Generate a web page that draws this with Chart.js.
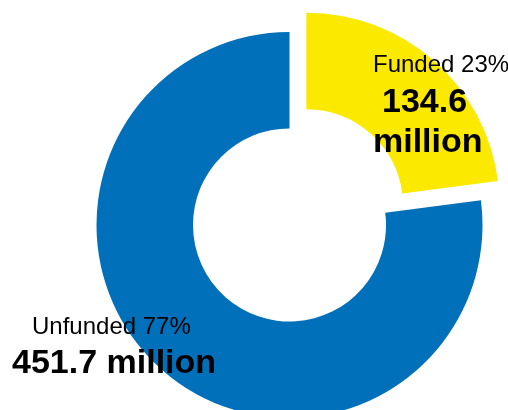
<!DOCTYPE html>
<html>
<head>
<meta charset="utf-8">
<style>
  html, body { margin: 0; padding: 0; background: #fff; }
  #wrap { width: 508px; height: 410px; position: relative; }
</style>
<script src="https://cdn.jsdelivr.net/npm/chart.js@4/dist/chart.umd.min.js"></script>
</head>
<body>
<div id="wrap"><canvas id="donut"></canvas></div>
<script>
// Funding split (values in millions)
const categories = ['Funded', 'Unfunded'];
const amounts = [134.6, 451.7];
const shares = [23, 77];
const sliceColors = ['#FBE900', '#0070BA'];

// Where each label block sits: [x, y of first line, lines]
const labelSpots = [
  { x: 373, y: 72, lines: ['head', 'num', 'unit'], numX: 382 },
  { x: 32, y: 334, lines: ['head', 'numunit'], numX: 12 },
];

const labelPlugin = {
  id: 'sliceLabels',
  afterDatasetsDraw(chart) {
    const ctx = chart.ctx;
    ctx.save();
    ctx.fillStyle = '#000';
    ctx.textAlign = 'left';
    ctx.textBaseline = 'alphabetic';
    categories.forEach((cat, i) => {
      const spot = labelSpots[i];
      ctx.font = '24px "Liberation Sans", Arial, sans-serif';
      ctx.fillText(cat + ' ' + shares[i] + '%', spot.x, spot.y);
      ctx.font = 'bold 34px "Liberation Sans", Arial, sans-serif';
      if (spot.lines.includes('numunit')) {
        ctx.fillText(amounts[i].toFixed(1) + ' million', spot.numX, spot.y + 38.5);
      } else {
        ctx.fillText(amounts[i].toFixed(1), spot.numX, spot.y + 40);
        ctx.fillText('million', spot.x, spot.y + 80);
      }
    });
    ctx.restore();
  }
};

new Chart(document.getElementById('donut'), {
  type: 'doughnut',
  data: {
    labels: categories,
    datasets: [{
      data: amounts,
      backgroundColor: sliceColors,
      borderWidth: 0,
      offset: [102, 0],
      clip: false,
    }]
  },
  options: {
    responsive: true,
    maintainAspectRatio: false,
    animation: false,
    cutout: '50%',
    radius: 193,
    rotation: 0,
    layout: { padding: { left: 71, right: 0, top: 40, bottom: 0 } },
    plugins: { legend: { display: false }, tooltip: { enabled: false } },
  },
  plugins: [labelPlugin]
});
</script>
</body>
</html>
